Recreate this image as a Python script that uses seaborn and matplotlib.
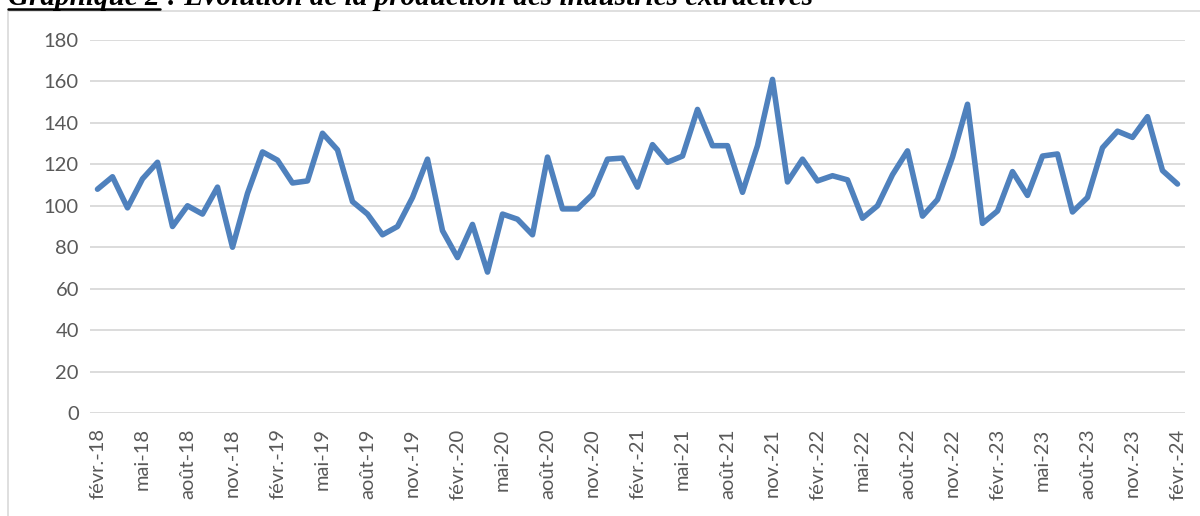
import matplotlib
matplotlib.use("Agg")
import matplotlib.pyplot as plt
import seaborn as sns
import pandas as pd
from matplotlib.lines import Line2D
from matplotlib.patches import Rectangle

months_fr = ["janv.", "févr.", "mars", "avr.", "mai", "juin", "juil.", "août", "sept.", "oct.", "nov.", "déc."]
periods = [(y, m) for y in range(2018, 2025) for m in range(12)][1:74]
categories = [f"{months_fr[m]}-{str(y)[2:]}" for y, m in periods]

production = [
    108, 114, 99, 113, 121, 90, 100, 96, 109, 80, 106,
    126, 122, 111, 112, 135, 127, 102, 96, 86, 90, 104, 122.5,
    88, 75, 91, 68, 96, 93.5, 86, 123.5, 98.5, 98.5, 105.5, 122.5,
    123, 109, 129.5, 121, 124, 146.5, 129, 129, 106.5, 129, 161, 111.5,
    122.5, 112, 114.5, 112.5, 94, 100, 115, 126.5, 95, 103, 123.5, 149,
    91.5, 97.5, 116.5, 105, 124, 125, 97, 104, 128, 136, 133, 143,
    117, 110.5,
]
y_ticks = [0, 20, 40, 60, 80, 100, 120, 140, 160, 180]
title_bold = "Graphique 2"
title_rest = " : Évolution de la production des industries extractives"

df = pd.DataFrame({"idx": range(len(categories)), "mois": categories, "valeur": production})

sns.set_theme(style="white")
plt.rcParams["font.family"] = ["Lato", "DejaVu Sans"]

W, H = 1200, 516
fig = plt.figure(figsize=(W / 100, H / 100), dpi=100)
fig.patch.set_facecolor("white")

# chart area border
fig.add_artist(Rectangle((7.5 / W, -0.1), 1.2, (H - 10.5) / H + 0.1, transform=fig.transFigure,
                         fill=False, edgecolor="#d9d9d9", linewidth=1.2))

ax = fig.add_axes([90 / W, 1 - 413 / H, 1095 / W, (413 - 40) / H])
sns.lineplot(data=df, x="idx", y="valeur", ax=ax, color="#4F81BD", linewidth=4.0,
             solid_joinstyle="round", solid_capstyle="round")
ax.set_xlim(-0.5, len(categories) - 0.5)
ax.set_ylim(0, 180)
ax.set_yticks(y_ticks)
ax.set_yticklabels([str(v) for v in y_ticks])
xt = list(range(0, len(categories), 3))
ax.set_xticks(xt)
ax.set_xticklabels([categories[i] for i in xt], rotation=90, va="top", ha="center")
ax.grid(axis="y", color="#d9d9d9", linewidth=1.3)
ax.grid(axis="x", visible=False)
ax.set_axisbelow(True)
for s in ax.spines.values():
    s.set_visible(False)
ax.tick_params(axis="both", length=0, labelsize=14.5, labelcolor="#595959")
ax.tick_params(axis="y", pad=8)
ax.tick_params(axis="x", pad=11)
ax.set_xlabel("")
ax.set_ylabel("")

# title (cut off at the top as in the reference)
fs = 21
t1 = fig.text(8 / W, 1 - 5 / H, title_bold, fontsize=fs, fontweight="bold", fontstyle="italic",
              family="Liberation Serif", va="baseline", ha="left", color="black")
fig.canvas.draw()
r = fig.canvas.get_renderer()
bb = t1.get_window_extent(r)
x_end = bb.x1 / W
fig.text(x_end, 1 - 5 / H, title_rest, fontsize=fs, fontweight="bold", fontstyle="italic",
         family="Liberation Serif", va="baseline", ha="left", color="black")
fig.add_artist(Line2D([8 / W, x_end], [1 - 8.5 / H, 1 - 8.5 / H], transform=fig.transFigure,
                      color="black", linewidth=1.8))

fig.savefig("out.png", dpi=100)
